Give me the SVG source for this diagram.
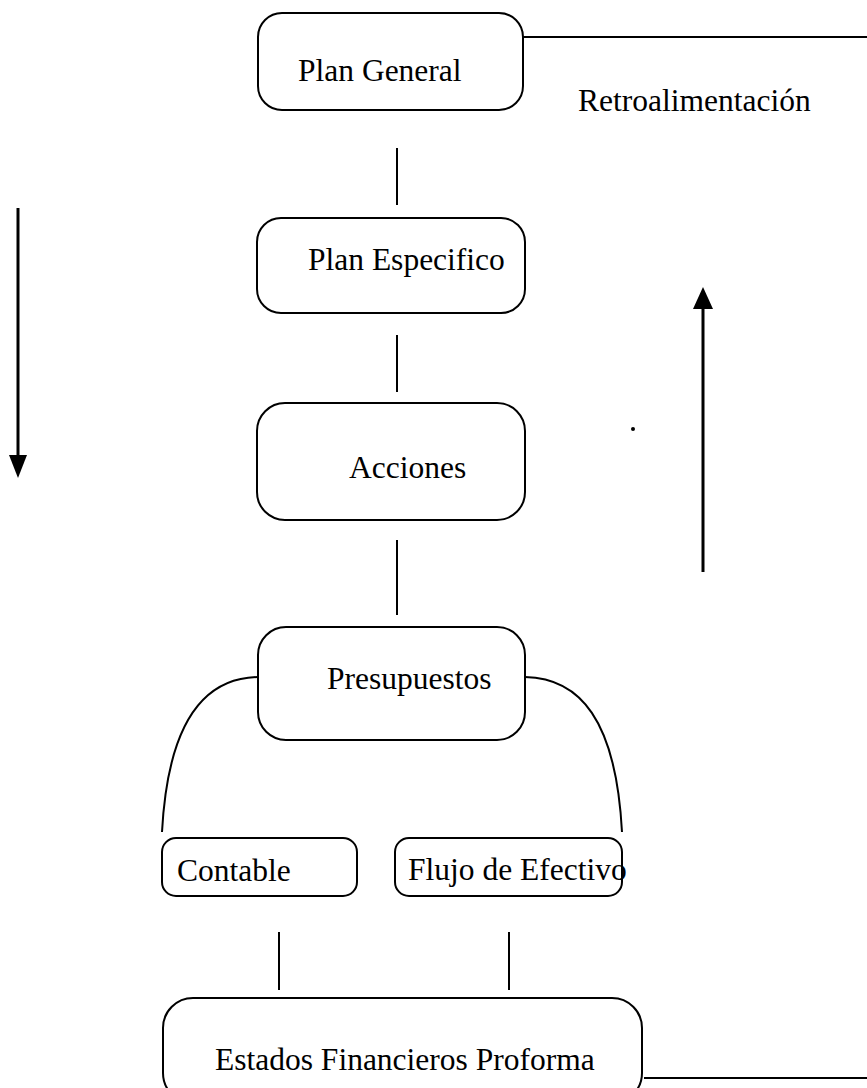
<svg xmlns="http://www.w3.org/2000/svg" width="867" height="1088" viewBox="0 0 867 1088">
<defs>
<style>
.box{fill:#fff;stroke:#000;stroke-width:2}
.ln{fill:none;stroke:#000;stroke-width:2}
.t{font-family:"Liberation Serif","Times New Roman",serif;font-size:31.5px;fill:#000}
</style>
</defs>
<rect width="867" height="1088" fill="#fff"/>
<g id="connectors">
<line class="ln" x1="523" y1="37" x2="867" y2="37"/>
<line class="ln" x1="397" y1="148" x2="397" y2="205"/>
<line class="ln" x1="397" y1="335" x2="397" y2="392"/>
<line class="ln" x1="397" y1="540" x2="397" y2="615"/>
<path class="ln" d="M258,677 C205,678 168,720 162,832"/>
<path class="ln" d="M525,677 C580,678 616,720 622,832"/>
<line class="ln" x1="279" y1="932" x2="279" y2="990"/>
<line class="ln" x1="509" y1="932" x2="509" y2="990"/>
<line class="ln" x1="644" y1="1078" x2="867" y2="1078"/>
<line x1="18" y1="208" x2="18" y2="458" stroke="#000" stroke-width="3"/>
<polygon points="9,455 27,455 18,478" fill="#000"/>
<line x1="703" y1="572" x2="703" y2="306" stroke="#000" stroke-width="3"/>
<polygon points="693,309 713,309 703,287" fill="#000"/>
<circle cx="633" cy="429" r="2" fill="#000"/>
</g>
<g id="plan-general">
<rect class="box" x="258" y="13" width="265" height="97" rx="24"/>
<text class="t" x="298" y="81">Plan General</text>
</g>
<g id="retro">
<text class="t" x="578" y="111">Retroalimentación</text>
</g>
<g id="plan-especifico">
<rect class="box" x="257" y="218" width="268" height="95" rx="24"/>
<text class="t" x="308" y="270">Plan Especifico</text>
</g>
<g id="acciones">
<rect class="box" x="257" y="403" width="268" height="117" rx="28"/>
<text class="t" x="349" y="478">Acciones</text>
</g>
<g id="presupuestos">
<rect class="box" x="258" y="627" width="267" height="113" rx="28"/>
<text class="t" x="327" y="689">Presupuestos</text>
</g>
<g id="contable">
<rect class="box" x="162" y="838" width="195" height="58" rx="14"/>
<text class="t" x="177" y="881">Contable</text>
</g>
<g id="flujo">
<rect class="box" x="395" y="838" width="227" height="58" rx="14"/>
<text class="t" x="408" y="880">Flujo de Efectivo</text>
</g>
<g id="estados">
<rect class="box" x="163" y="998" width="479" height="105" rx="30"/>
<text class="t" x="215" y="1070">Estados Financieros Proforma</text>
</g>
</svg>
